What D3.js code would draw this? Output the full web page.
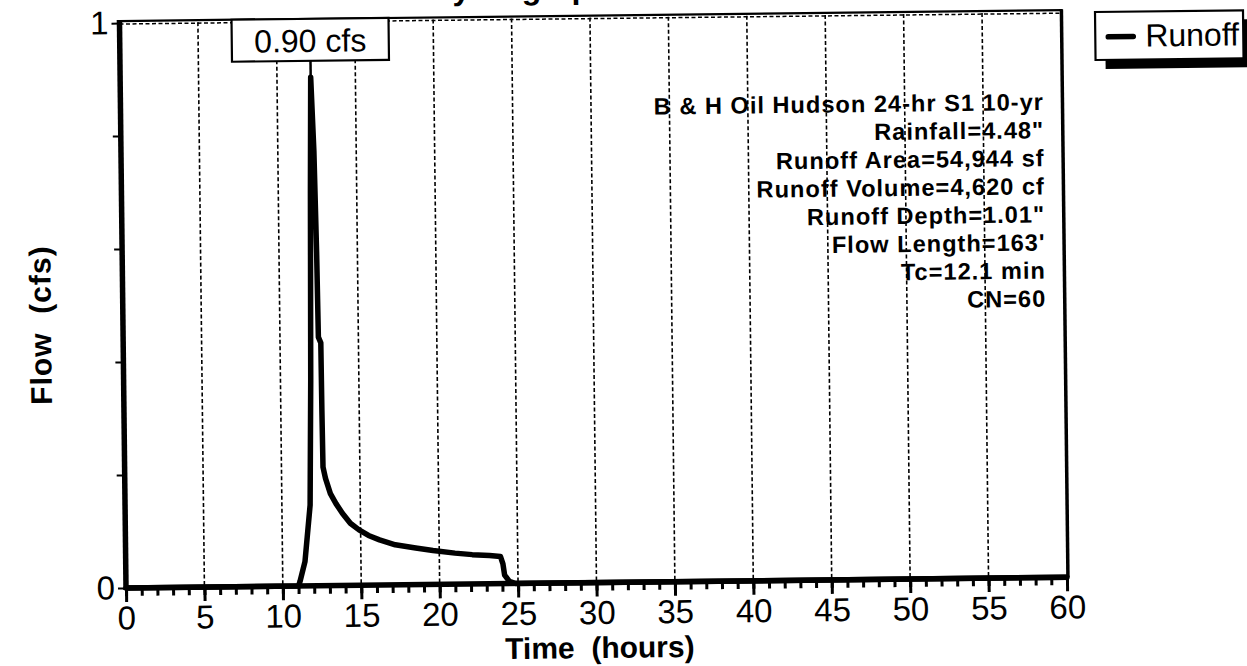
<!DOCTYPE html>
<html><head><meta charset="utf-8">
<script src="https://cdn.jsdelivr.net/npm/d3@7"></script>
<style>
body{margin:0;background:#fff}
text{font-family:"Liberation Sans",Arial,sans-serif;fill:#000}
</style>
</head><body>
<svg id="c" width="1247" height="666"></svg>
<script>
// ---------- data ----------
const timeHours = [0, 11.0, 11.1, 11.43, 11.8, 11.93, 12.05, 12.15, 12.3, 12.4, 12.45, 12.6, 12.62, 12.65, 12.8, 13.1, 13.45, 13.85, 14.35, 14.9, 15.5, 16.2, 17.2, 18.5, 19.6, 21.0, 22.1, 23.2, 23.9, 24.05, 24.15, 24.45, 24.85, 60];
const flowCfs   = [0, 0,    0.008, 0.043, 0.143, 0.364, 0.70, 0.90, 0.77, 0.59, 0.44, 0.43, 0.31, 0.21, 0.19, 0.163, 0.145, 0.128, 0.11, 0.098, 0.088, 0.080, 0.071, 0.065, 0.060, 0.055, 0.052, 0.050, 0.048, 0.035, 0.015, 0.004, 0, 0];
const xTickValues = [0, 5, 10, 15, 20, 25, 30, 35, 40, 45, 50, 55, 60];
const xMinorTickValues = d3.range(0, 61, 1);
const yTickValues = [0, 0.2, 0.4, 0.6, 0.8, 1];
const yTickLabels = ["0", "", "", "", "", "1"];
const infoLines = ["B & H Oil Hudson 24-hr S1 10-yr", "Rainfall=4.48\"", "Runoff Area=54,944 sf", "Runoff Volume=4,620 cf", "Runoff Depth=1.01\"", "Flow Length=163'", "Tc=12.1 min", "CN=60"];
const peakLabel = "0.90 cfs";
const seriesName = "Runoff";
const chartTitle = "Hydrograph";
const xTitle = "Time  (hours)";
const yTitle = "Flow  (cfs)";

// ---------- layout ----------
const W = 1247, H = 666;
const pivot = [126, 588], angDeg = -0.66;
const ang = angDeg * Math.PI / 180;
// convert a target page position to the unrotated drawing frame
function unrot(X, Y) {
  const dx = X - pivot[0], dy = Y - pivot[1], c = Math.cos(-ang), s = Math.sin(-ang);
  return [pivot[0] + dx * c - dy * s, pivot[1] + dx * s + dy * c];
}

const svg = d3.select("#c");
svg.append("rect").attr("width", W).attr("height", H).attr("fill", "#fff");
const g = svg.append("g").attr("transform", `rotate(${angDeg},${pivot[0]},${pivot[1]})`);

const x = d3.scaleLinear().domain([0, 60]).range([126, 1067]);
const y = d3.scaleLinear().domain([0, 1]).range([588, 23]);

// title (cropped at top of page)
const tp = unrot(520, -1);
g.append("text").attr("x", tp[0]).attr("y", tp[1]).attr("text-anchor", "middle")
  .attr("font-size", 32).attr("font-weight", "bold").text(chartTitle);

// gridlines
g.append("g").selectAll("line").data(xTickValues.filter(d => d > 0 && d < 60)).join("line")
  .attr("x1", d => x(d)).attr("x2", d => x(d)).attr("y1", y(1)).attr("y2", y(0))
  .attr("stroke", "#000").attr("stroke-width", 1.6).attr("stroke-dasharray", "4,2.5");
g.append("line").attr("x1", x(0)).attr("x2", x(60)).attr("y1", y(1) + 1).attr("y2", y(1) + 1)
  .attr("stroke", "#000").attr("stroke-width", 1.5).attr("stroke-dasharray", "4,2.5");

// frame top and right
g.append("line").attr("x1", x(0)).attr("x2", x(60) + 2).attr("y1", y(1) - 2).attr("y2", y(1) - 2)
  .attr("stroke", "#000").attr("stroke-width", 2.2);
g.append("line").attr("x1", x(60) + 1).attr("x2", x(60) + 1).attr("y1", y(1) - 3).attr("y2", y(0))
  .attr("stroke", "#000").attr("stroke-width", 3.5);

// x axis minor ticks
const xMinor = g.append("g").attr("transform", `translate(0,${y(0)})`)
  .call(d3.axisBottom(x).tickValues(xMinorTickValues).tickSize(8).tickFormat(""));
xMinor.select(".domain").remove();
xMinor.selectAll(".tick line").attr("stroke-width", 3);

// x axis major
const xAx = g.append("g").attr("transform", `translate(0,${y(0)})`)
  .call(d3.axisBottom(x).tickValues(xTickValues).tickSize(14).tickPadding(4));
xAx.select(".domain").attr("stroke-width", 5.5).attr("d", `M${x(0)},0H${x(60) + 2}`);
xAx.selectAll(".tick line").attr("stroke-width", 3);
xAx.selectAll(".tick text").attr("font-size", 33).attr("font-family", "Liberation Sans, Arial, sans-serif");

// y axis
const yAx = g.append("g").attr("transform", `translate(${x(0)},0)`)
  .call(d3.axisLeft(y).tickValues(yTickValues).tickSize(8).tickPadding(3)
    .tickFormat((d, i) => yTickLabels[i]));
yAx.select(".domain").attr("stroke-width", 5.5).attr("d", `M0,${y(0) + 2}V${y(1) - 3}`);
yAx.selectAll(".tick line").attr("stroke-width", 2);
yAx.selectAll(".tick text").attr("font-size", 33).attr("font-family", "Liberation Sans, Arial, sans-serif");

// hydrograph line
const pts = timeHours.map((t, i) => [t, flowCfs[i]]);
g.append("path").datum(pts)
  .attr("d", d3.line().x(d => x(d[0])).y(d => y(d[1])))
  .attr("fill", "none").attr("stroke", "#000").attr("stroke-width", 5.5)
  .attr("stroke-linejoin", "round").attr("stroke-linecap", "round");

// peak label
const peakIdx = d3.maxIndex(flowCfs);
const px = x(timeHours[peakIdx]);
const boxW = 157, boxH = 42, boxTop = y(1) - 2;
g.append("line").attr("x1", px).attr("x2", px).attr("y1", boxTop + boxH).attr("y2", y(flowCfs[peakIdx]))
  .attr("stroke", "#000").attr("stroke-width", 2.5);
g.append("rect").attr("x", px - boxW / 2).attr("y", boxTop).attr("width", boxW).attr("height", boxH)
  .attr("fill", "#fff").attr("stroke", "#000").attr("stroke-width", 2.2);
g.append("text").attr("x", px).attr("y", boxTop + 33).attr("text-anchor", "middle")
  .attr("font-size", 32).text(peakLabel);

// info text block
const ip = unrot(1044, 110);
g.append("g").selectAll("text").data(infoLines).join("text")
  .attr("x", ip[0]).attr("y", (d, i) => ip[1] + i * 28.1)
  .attr("text-anchor", "end").attr("font-size", 23.6).attr("font-weight", "bold")
  .attr("letter-spacing", 1)
  .text(d => d);

// legend
const lp = unrot(1095, 12);
const lg = g.append("g").attr("transform", `translate(${lp[0]},${lp[1]})`);
lg.append("rect").attr("x", 10).attr("y", 9).attr("width", 150).attr("height", 48).attr("fill", "#000");
lg.append("rect").attr("x", 0).attr("y", 0).attr("width", 148).attr("height", 48)
  .attr("fill", "#fff").attr("stroke", "#000").attr("stroke-width", 2.2);
lg.append("line").attr("x1", 13).attr("x2", 38).attr("y1", 25).attr("y2", 25)
  .attr("stroke", "#000").attr("stroke-width", 5.5).attr("stroke-linecap", "round");
lg.append("text").attr("x", 50).attr("y", 35).attr("font-size", 32).text(seriesName);

// axis titles
const xt = unrot(600, 658);
g.append("text").attr("x", xt[0]).attr("y", xt[1]).attr("text-anchor", "middle")
  .attr("font-size", 30).attr("font-weight", "bold").style("white-space", "pre").text(xTitle);
const yt = unrot(51, 325);
g.append("text").attr("transform", `translate(${yt[0]},${yt[1]}) rotate(-90)`)
  .attr("text-anchor", "middle").attr("font-size", 30).attr("font-weight", "bold")
  .attr("letter-spacing", 1)
  .style("white-space", "pre").text(yTitle);
</script>
</body></html>
